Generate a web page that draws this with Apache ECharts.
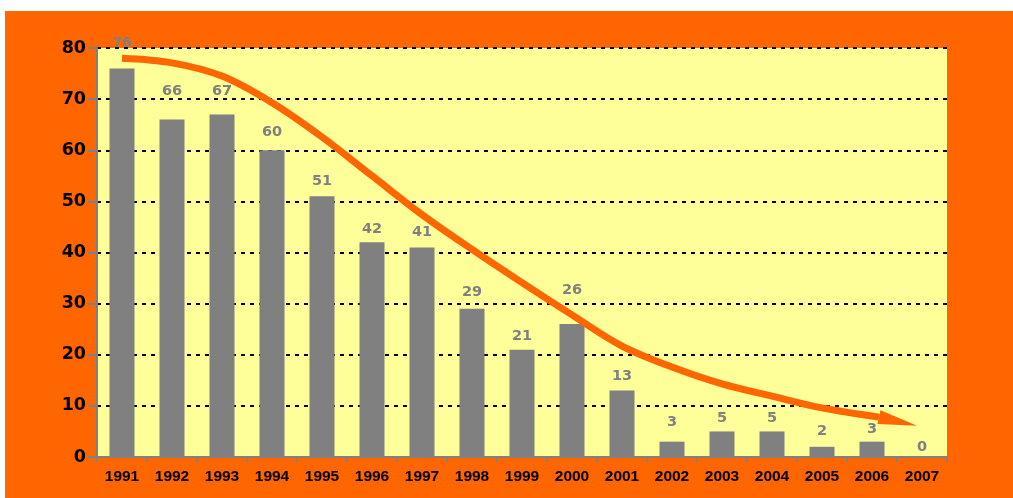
<!DOCTYPE html>
<html><head><meta charset="utf-8">
<script src="https://cdn.jsdelivr.net/npm/echarts@6/dist/echarts.min.js"></script>
<style>html,body{margin:0;padding:0;background:#fff;width:1013px;height:498px;overflow:hidden}
#c{position:absolute;left:5px;top:11px;width:1008px;height:487px}</style>
</head><body><div id="c"></div>
<script>
const years = ['1991','1992','1993','1994','1995','1996','1997','1998','1999','2000','2001','2002','2003','2004','2005','2006','2007'];
const counts = [76,66,67,60,51,42,41,29,21,26,13,3,5,5,2,3,0];
// trend arrow path (category position, value)
const trendX = [0,1,2,3,4,5,6,7,8,9,10,11,12,13,14,15.14];
const trendY = [78.0,77.1,74.5,69.3,62.6,55.0,47.4,40.6,34.1,27.8,21.7,17.6,14.3,11.9,9.6,7.8];

// label placement styling (pixels above bar top)
const labelDist = [17.5,21,15.5,10.5,7.5,5.5,8,9,6,26,6.5,11.5,6,6,8,5,2];

const chart = echarts.init(document.getElementById('c'), null, {renderer:'canvas'});
const trendData = trendX.map((x,i)=>{
  const item = {value:[x, trendY[i]]};
  if (i === trendX.length-1) {
    item.symbol = 'triangle';
    item.symbolSize = [14, 39];
    item.symbolRotate = -102.6;
    item.symbolOffset = [19, 4.3];
    item.itemStyle = {color:'#FF6600', opacity:1};
  }
  return item;
});
chart.setOption({
  backgroundColor:'#FF6600',
  animation:false,
  grid:{left:92, top:37, right:66, bottom:41, show:true, backgroundColor:'#FFFF99', borderWidth:0},
  xAxis:[{
    type:'category', data:years, boundaryGap:true,
    axisLine:{onZero:false, lineStyle:{color:'#808080', width:2}},
    axisTick:{show:true, length:5, lineStyle:{color:'#808080', width:2}},
    axisLabel:{color:'#000', fontFamily:'Liberation Sans, Arial', fontWeight:'bold', fontSize:15.5, margin:12},
    splitLine:{show:false}
  },{
    type:'value', min:-0.5, max:16.5, show:false, splitLine:{show:false}
  }],
  yAxis:[{
    type:'value', min:0, max:80, interval:10,
    axisLine:{show:true, onZero:false, lineStyle:{color:'#808080', width:2}},
    axisTick:{show:true, length:9, lineStyle:{color:'#808080', width:2}},
    axisLabel:{color:'#000', fontFamily:'DejaVu Sans', fontWeight:'bold', fontSize:17.5, margin:11},
    splitLine:{show:true, lineStyle:{color:'#000', width:2, type:[4,5]}}
  }],
  series:[{
    type:'bar', data:counts.map((v,i)=>({value:v, label:{offset:[0, -labelDist[i]]}})),
    barWidth:'50%', z:2,
    itemStyle:{color:'#808080'},
    label:{show:true, position:'top', distance:0, color:'#808080', fontFamily:'DejaVu Sans', fontWeight:'bold', fontSize:14.5}
  },{
    type:'line', xAxisIndex:1, data:trendData, smooth:0.35, z:5,
    symbol:'none', showSymbol:true,
    lineStyle:{color:'#FF6600', width:7},
    itemStyle:{color:'#FF6600'}
  }]
});
</script></body></html>
